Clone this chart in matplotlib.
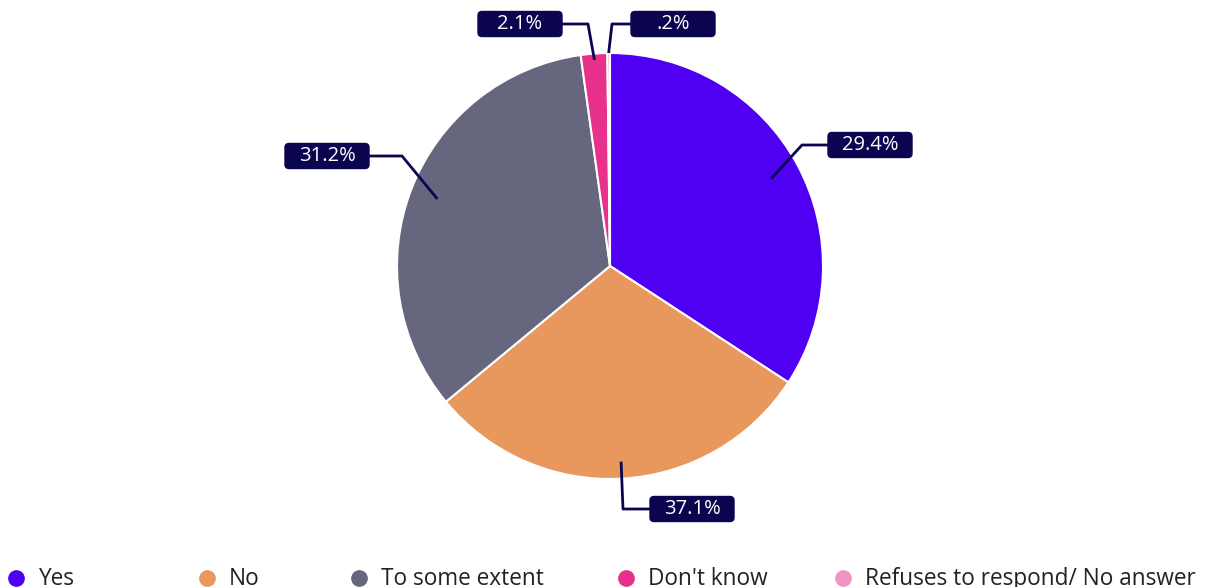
import numpy as np
import matplotlib.pyplot as plt
from matplotlib.patches import FancyBboxPatch

categories = ['Yes', 'No', 'To some extent', "Don't know", 'Refuses to respond/ No answer']
slice_sizes = [34.2, 29.8, 33.8, 2.0, 0.2]
label_texts = ['29.4%', '37.1%', '31.2%', '2.1%', '.2%']
colors = ['#4f00f2', '#e8985c', '#67667f', '#e8318a', '#f194c3']

W, H = 1210, 587
navy = '#0b0550'
plt.rcParams['font.family'] = ['Open Sans', 'DejaVu Sans']

fig = plt.figure(figsize=(W / 100, H / 100), dpi=100)
ax = fig.add_axes([0, 0, 1, 1])

cx, cy, r = 610, H - 266, 213
wedges, _ = ax.pie(slice_sizes, colors=colors, startangle=90, counterclock=False,
                   center=(cx, cy), radius=r,
                   wedgeprops=dict(edgecolor='white', linewidth=1.5))
ax.set_xlim(0, W)
ax.set_ylim(0, H)
ax.axis('off')

# label layout: (box centre x, box centre y, elbow x, elbow y, anchor radius frac)
label_pos = [
    (870, 145, 802, 145, 0.86),
    (692, 509, 623, 509, 0.92),
    (327, 156, 402, 156, 0.87),
    (520, 24, 588, 24, 0.97),
    (673, 24, 612, 24, 1.0),
]

for w, txt, (bx, by, ex, ey, fr) in zip(wedges, label_texts, label_pos):
    mid = np.deg2rad((w.theta1 + w.theta2) / 2)
    ax_x = cx + r * fr * np.cos(mid)
    ax_y = cy + r * fr * np.sin(mid)
    bw, bh = 84, 25
    edge_x = bx - bw / 2 if ex < bx else bx + bw / 2
    ax.plot([ax_x, ex, edge_x], [ax_y, H - ey, H - ey], color=navy, lw=2, zorder=3,
            solid_capstyle='butt')
    box = FancyBboxPatch((bx - bw / 2 + 4, H - by - bh / 2 + 4), bw - 8, bh - 8,
                         boxstyle='round,pad=4', fc=navy, ec=navy, zorder=4)
    ax.add_patch(box)
    ax.text(bx, H - by, txt, color='white', fontsize=14.5, ha='center', va='center', zorder=5)

# legend along the bottom
leg_x = [16, 207, 359, 626, 843]
leg_y = H - 578
for x, c, name in zip(leg_x, colors, categories):
    ax.plot(x, leg_y, 'o', ms=11, color=c, clip_on=False)
    ax.text(x + 22, leg_y - 1, name, fontsize=16.3, color='#222222', va='center', ha='left')

fig.savefig('out.png', dpi=100)
